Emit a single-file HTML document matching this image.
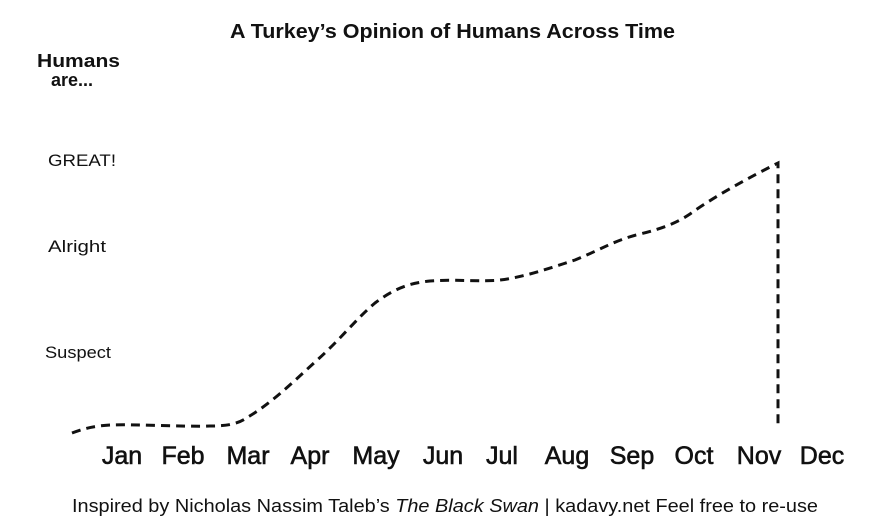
<!DOCTYPE html>
<html><head><meta charset="utf-8"><style>
html,body{margin:0;padding:0;background:#fff;}
svg{display:block;}
text{font-family:"Liberation Sans",sans-serif;fill:#111;}
</style></head><body>
<svg width="884" height="530" viewBox="0 0 884 530" xmlns="http://www.w3.org/2000/svg">
<rect width="884" height="530" fill="#fff"/>
<text x="230" y="38" font-size="20" font-weight="bold" textLength="445" lengthAdjust="spacingAndGlyphs">A Turkey’s Opinion of Humans Across Time</text>
<text x="37" y="67" font-size="18" font-weight="bold" textLength="83" lengthAdjust="spacingAndGlyphs">Humans</text>
<text x="51" y="86" font-size="18" font-weight="bold">are...</text>
<text x="48" y="166" font-size="17" textLength="68" lengthAdjust="spacingAndGlyphs">GREAT!</text>
<text x="48" y="252" font-size="17" textLength="58" lengthAdjust="spacingAndGlyphs">Alright</text>
<text x="45" y="358" font-size="17" textLength="66" lengthAdjust="spacingAndGlyphs">Suspect</text>
<path d="M72,433 C85,428 95,426 110,425 C140,424 180,427 210,426 C228,426 238,424 248,417 C270,404 290,385 315,362 C340,340 355,320 375,303 C395,288 410,283 430,281 C455,279 480,282 500,280 C525,277 550,268 575,260 C600,250 615,240 640,234 C665,228 678,222 690,214 C715,196 750,177 778,163 L778,425" fill="none" stroke="#111" stroke-width="3" stroke-dasharray="9,6"/>
<g font-size="25" text-anchor="middle" stroke="#111" stroke-width="0.6">
<text x="122" y="464">Jan</text>
<text x="183" y="464">Feb</text>
<text x="248" y="464">Mar</text>
<text x="310" y="464">Apr</text>
<text x="376" y="464">May</text>
<text x="443" y="464">Jun</text>
<text x="502" y="464">Jul</text>
<text x="567" y="464">Aug</text>
<text x="632" y="464">Sep</text>
<text x="694" y="464">Oct</text>
<text x="759" y="464">Nov</text>
<text x="822" y="464">Dec</text>
</g>
<text x="72" y="512" font-size="18" textLength="746" lengthAdjust="spacingAndGlyphs">Inspired by Nicholas Nassim Taleb’s <tspan font-style="italic">The Black Swan</tspan> | kadavy.net Feel free to re-use</text>
</svg>
</body></html>
